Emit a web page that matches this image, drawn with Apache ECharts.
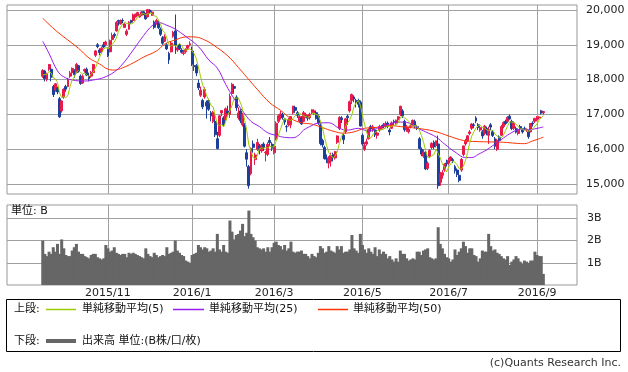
<!DOCTYPE html>
<html><head><meta charset="utf-8">
<script src="https://cdn.jsdelivr.net/npm/echarts@6/dist/echarts.min.js"></script>
<style>html,body{margin:0;padding:0;background:#fff}#c{width:628px;height:372px}</style>
</head><body><div id="c"></div>
<script>
const dates = [
'2015/9/14','2015/9/15','2015/9/16','2015/9/17','2015/9/18','2015/9/24','2015/9/25','2015/9/28','2015/9/29','2015/9/30',
'2015/10/1','2015/10/2','2015/10/5','2015/10/6','2015/10/7','2015/10/8','2015/10/9','2015/10/13','2015/10/14','2015/10/15','2015/10/16','2015/10/19','2015/10/20','2015/10/21','2015/10/22','2015/10/23','2015/10/26','2015/10/27','2015/10/28','2015/10/29','2015/10/30',
'2015/11/2','2015/11/4','2015/11/5','2015/11/6','2015/11/9','2015/11/10','2015/11/11','2015/11/12','2015/11/13','2015/11/16','2015/11/17','2015/11/18','2015/11/19','2015/11/20','2015/11/24','2015/11/25','2015/11/26','2015/11/27','2015/11/30',
'2015/12/1','2015/12/2','2015/12/3','2015/12/4','2015/12/7','2015/12/8','2015/12/9','2015/12/10','2015/12/11','2015/12/14','2015/12/15','2015/12/16','2015/12/17','2015/12/18','2015/12/21','2015/12/22','2015/12/24','2015/12/25','2015/12/28','2015/12/29','2015/12/30',
'2016/1/4','2016/1/5','2016/1/6','2016/1/7','2016/1/8','2016/1/12','2016/1/13','2016/1/14','2016/1/15','2016/1/18','2016/1/19','2016/1/20','2016/1/21','2016/1/22','2016/1/25','2016/1/26','2016/1/27','2016/1/28','2016/1/29',
'2016/2/1','2016/2/2','2016/2/3','2016/2/4','2016/2/5','2016/2/8','2016/2/9','2016/2/10','2016/2/12','2016/2/15','2016/2/16','2016/2/17','2016/2/18','2016/2/19','2016/2/22','2016/2/23','2016/2/24','2016/2/25','2016/2/26','2016/2/29',
'2016/3/1','2016/3/2','2016/3/3','2016/3/4','2016/3/7','2016/3/8','2016/3/9','2016/3/10','2016/3/11','2016/3/14','2016/3/15','2016/3/16','2016/3/17','2016/3/18','2016/3/22','2016/3/23','2016/3/24','2016/3/25','2016/3/28','2016/3/29','2016/3/30','2016/3/31',
'2016/4/1','2016/4/4','2016/4/5','2016/4/6','2016/4/7','2016/4/8','2016/4/11','2016/4/12','2016/4/13','2016/4/14','2016/4/15','2016/4/18','2016/4/19','2016/4/20','2016/4/21','2016/4/22','2016/4/25','2016/4/26','2016/4/27','2016/4/28',
'2016/5/2','2016/5/6','2016/5/9','2016/5/10','2016/5/11','2016/5/12','2016/5/13','2016/5/16','2016/5/17','2016/5/18','2016/5/19','2016/5/20','2016/5/23','2016/5/24','2016/5/25','2016/5/26','2016/5/27','2016/5/30','2016/5/31',
'2016/6/1','2016/6/2','2016/6/3','2016/6/6','2016/6/7','2016/6/8','2016/6/9','2016/6/10','2016/6/13','2016/6/14','2016/6/15','2016/6/16','2016/6/17','2016/6/20','2016/6/21','2016/6/22','2016/6/23','2016/6/24','2016/6/27','2016/6/28','2016/6/29','2016/6/30',
'2016/7/1','2016/7/4','2016/7/5','2016/7/6','2016/7/7','2016/7/8','2016/7/11','2016/7/12','2016/7/13','2016/7/14','2016/7/15','2016/7/19','2016/7/20','2016/7/21','2016/7/22','2016/7/25','2016/7/26','2016/7/27','2016/7/28','2016/7/29',
'2016/8/1','2016/8/2','2016/8/3','2016/8/4','2016/8/5','2016/8/8','2016/8/9','2016/8/10','2016/8/12','2016/8/15','2016/8/16','2016/8/17','2016/8/18','2016/8/19','2016/8/22','2016/8/23','2016/8/24','2016/8/25','2016/8/26','2016/8/29','2016/8/30','2016/8/31',
'2016/9/1','2016/9/2','2016/9/5','2016/9/6'
];
const opens = [
18100,18250,18000,18300,18300,17800,17700,17750,17450,17100,
17500,17800,17800,18100,18200,18250,18200,18400,18100,17900,18250,18300,18100,18100,18200,18700,19000,18850,18800,19000,19000,
18900,18800,19150,19300,19400,19700,19600,19700,19500,19300,19450,19700,19700,19800,19850,19800,19850,19950,19900,
19800,20000,19850,19650,19600,19650,19450,19200,19100,19000,18750,18800,19250,19400,18850,19000,18850,18750,18800,18900,19000,
18820,18400,18400,17900,17550,17400,17500,17350,17400,17050,16800,16800,16300,16400,17040,16900,16850,17100,17000,
17600,17800,17500,16900,17100,16700,16700,15900,15500,15300,16150,15700,16000,16100,15950,16150,15900,15850,16250,16150,
15900,16300,16800,16900,17000,16850,16650,16700,16700,17050,17200,17050,16800,16900,16800,16950,16950,16900,17050,17050,17050,16950,
16700,16250,16050,15750,15600,15650,15850,15750,16200,16600,16900,16400,16500,16950,17100,17400,17500,17400,17400,17350,
16400,16000,16150,16300,16650,16550,16550,16400,16550,16600,16700,16650,16750,16550,16600,16800,16750,16850,17000,
17100,16800,16550,16500,16650,16700,16800,16650,16300,16000,15800,15900,15450,15800,16050,16200,16100,16150,15050,15250,15400,15600,
15600,15700,15700,15500,15400,15250,15400,15850,16150,16250,16450,16600,16700,16900,16700,16550,16500,16450,16600,16400,
16700,16500,16300,16000,16350,16400,16650,16800,16800,16950,16800,16600,16600,16450,16650,16550,16600,16550,16500,16500,16750,16800,
16850,16900,17100,17050
];
const highs = [
18300,18280,18200,18450,18320,17850,17900,17800,17500,17400,
17750,17850,18050,18250,18350,18300,18480,18420,18150,18150,18320,18350,18200,18250,18450,18850,19050,18900,18950,19080,19120,
18920,19150,19350,19350,19680,19720,19730,19760,19620,19450,19680,19720,19900,19900,19950,19880,19970,19970,19920,
20030,20020,19990,19700,19750,19700,19500,19250,19300,19050,18800,19100,19400,19870,19000,19050,18900,18850,18900,19000,19100,
18950,18500,18450,18000,17800,17450,17780,17400,17450,17100,17100,16850,16500,16980,17120,16950,17200,17250,17600,
17905,17850,17550,17200,17150,17050,16750,16000,15550,16050,16250,15900,16300,16150,16150,16200,15950,16200,16350,16200,
16150,16800,17000,17100,17050,16900,16700,16900,16950,17250,17250,17100,16980,16950,17100,17050,16980,17050,17150,17150,17100,17000,
16760,16300,16100,15850,15800,15900,15900,15950,16400,16950,16950,16450,16900,17000,17400,17600,17550,17450,17450,17400,
16450,16200,16300,16600,16700,16700,16600,16500,16700,16700,16750,16800,16800,16600,16800,16850,16850,16950,17250,
17150,16850,16700,16650,16750,16850,16850,16700,16350,16050,16000,15950,15650,16000,16200,16250,16250,16390,15350,15400,15600,15700,
15750,15800,15750,15550,15450,15300,15750,16100,16300,16400,16550,16750,16750,16950,16750,16700,16550,16700,16650,16650,
16750,16550,16350,16300,16400,16700,16800,16850,16950,17000,16850,16800,16650,16600,16700,16600,16650,16600,16550,16750,16800,16900,
16950,16950,17130,17100
];
const lows = [
18050,17950,17950,18250,17950,17500,17650,17580,16900,17050,
17450,17650,17780,18050,18150,18050,18180,18200,17850,17880,18200,18100,17950,18050,18150,18650,18900,18700,18750,18900,18950,
18650,18780,19100,19200,19380,19550,19580,19620,19480,19250,19430,19600,19680,19780,19820,19780,19830,19850,19720,
19790,19900,19830,19450,19580,19450,19250,19000,19080,18850,18450,18780,19200,18740,18800,18850,18750,18700,18750,18850,18950,
18390,18250,18100,17700,17500,17150,17450,16880,17100,16800,16750,16350,16000,16350,16950,16650,16820,16950,16900,
17550,17650,17100,16850,16750,16650,16050,15500,14865,15250,15900,15550,15950,15850,15900,15950,15650,15800,16100,15950,
15850,16250,16750,16850,16850,16700,16500,16650,16600,17000,17050,16900,16750,16700,16780,16900,16820,16850,17000,16980,16850,16700,
16110,16050,15700,15600,15450,15500,15650,15700,16150,16550,16750,16150,16450,16700,17050,17300,17350,17200,17200,16650,
16100,15950,16100,16280,16500,16500,16350,16300,16500,16550,16600,16600,16600,16400,16580,16700,16700,16800,16950,
16900,16500,16500,16450,16600,16650,16600,16550,16000,15800,15750,15400,15400,15750,16000,16000,16050,14864,14950,15150,15350,15500,
15550,15650,15600,15300,15200,15050,15350,15800,16100,16200,16400,16550,16600,16750,16550,16500,16300,16400,16400,16150,
16550,16350,16000,15950,16200,16380,16600,16700,16750,16850,16550,16550,16450,16400,16550,16450,16550,16500,16300,16480,16650,16750,
16800,16850,17000,17000
];
const closes = [
18264,18026,18171,18432,18070,17571,17880,17645,16930,17388,
17722,17725,18005,18186,18322,18141,18438,18234,17891,18096,18291,18131,18029,18207,18435,18825,18947,18777,18903,18935,19083,
18683,19116,19265,19265,19642,19671,19697,19691,19596,19393,19649,19649,19859,19879,19925,19847,19944,19883,19747,
20012,19938,19940,19504,19698,19492,19301,19046,19230,18883,18565,19049,19353,18986,18916,18886,18789,18769,18873,18982,19033,
18450,18374,18191,17767,17697,17218,17715,17240,17147,16955,17048,16416,16017,16958,17110,16708,17163,17041,17518,
17865,17750,17191,17044,16819,17004,16085,15713,14952,16022,16054,15836,16196,15967,16111,16052,15915,16140,16188,16027,
16085,16747,16960,17015,16912,16784,16642,16852,16939,17233,17117,16975,16937,16725,17049,17001,16893,17002,17135,17103,16879,16759,
16164,16123,15733,15715,15750,15822,15751,15928,16381,16911,16849,16275,16874,16906,17363,17572,17440,17353,17290,16666,
16147,16106,16216,16565,16579,16646,16412,16466,16653,16644,16646,16736,16654,16498,16757,16772,16834,16931,17234,
16955,16562,16642,16580,16675,16830,16668,16601,16019,15859,15919,15434,15599,15965,16169,16065,16238,14952,15309,15323,15566,15575,
15682,15775,15669,15378,15276,15106,15708,16095,16231,16385,16497,16723,16681,16810,16627,16620,16383,16664,16476,16569,
16635,16391,16083,16254,16254,16650,16764,16735,16919,16869,16596,16745,16486,16545,16598,16497,16597,16555,16360,16737,16725,16887,
16926,16925,17037,17081
];
const volumes = [
2.0,1.4,1.3,1.5,1.4,1.7,1.5,1.85,1.4,2.05,
1.65,1.35,1.3,1.3,1.55,1.7,1.85,1.5,1.4,1.4,1.3,1.25,1.2,1.35,1.4,1.4,1.25,1.2,1.15,1.2,1.8,
1.65,1.5,1.55,1.7,1.45,1.4,1.35,1.4,1.4,1.25,1.45,1.4,1.45,1.4,1.35,1.3,1.25,1.2,1.65,
1.4,1.3,1.25,1.45,1.35,1.25,1.3,1.35,1.3,1.7,1.4,1.45,1.5,2.0,1.55,1.45,1.35,1.3,1.1,1.05,1.0,
1.35,1.4,1.45,1.8,1.7,1.6,1.7,1.65,1.5,1.55,1.65,1.5,2.3,1.6,1.5,1.8,1.5,1.45,2.9,
2.4,2.05,2.25,2.3,2.45,2.75,2.2,2.35,3.35,2.3,2.15,2.0,1.7,1.65,1.6,1.65,1.5,1.7,1.5,1.7,
1.9,1.95,1.8,1.75,1.6,1.8,1.55,1.65,1.95,1.5,1.45,1.5,1.5,1.55,1.4,1.4,1.3,1.2,1.4,1.3,1.25,1.45,
1.75,1.65,1.45,1.5,1.75,1.55,1.5,1.45,1.75,1.6,1.75,1.45,1.5,1.5,1.6,2.25,1.65,1.55,1.45,2.3,
1.8,1.6,1.45,1.65,1.5,1.4,1.7,1.3,1.6,1.4,1.5,1.4,1.2,1.3,1.15,1.05,1.2,1.05,1.55,
1.4,1.4,1.2,1.1,1.15,1.2,1.15,1.5,1.5,1.35,1.55,1.6,1.65,1.25,1.2,1.15,1.2,2.6,1.85,1.65,1.4,1.25,
1.2,1.05,1.15,1.6,1.35,1.5,1.65,1.95,1.75,1.45,1.65,1.65,1.35,1.3,1.05,1.2,1.55,1.5,1.5,2.3,
1.75,1.55,1.6,1.45,1.4,1.3,1.2,1.15,1.3,0.9,1.05,1.15,1.3,1.2,1.05,0.95,1.1,1.05,1.0,1.1,1.1,1.5,
1.35,1.3,1.3,0.5
];
const ma5 = [
18130,18150,18150,18238,18193,18054,18025,17920,17619,17483,
17513,17482,17554,17805,17992,18076,18218,18264,18205,18160,18190,18129,18088,18151,18219,18325,18489,18638,18777,18877,18929,
18876,18944,19016,19082,19194,19392,19508,19593,19659,19610,19605,19596,19629,19686,19792,19832,19891,19896,19869,
19887,19905,19904,19828,19818,19714,19587,19408,19353,19190,19005,18955,19016,18967,18974,19038,18986,18869,18847,18860,18889,
18821,18742,18606,18363,18096,17849,17718,17527,17403,17255,17221,16961,16717,16679,16710,16642,16791,16996,17108,
17259,17467,17473,17474,17334,17162,16829,16533,16115,15955,15765,15715,15812,16015,16033,16032,16048,16037,16081,16064,
16071,16237,16401,16567,16744,16884,16863,16841,16826,16890,16957,17023,17040,16997,16961,16937,16921,16934,17016,17027,17002,16976,
16808,16606,16332,16099,15897,15829,15754,15793,15926,16159,16364,16469,16658,16763,16853,16998,17231,17327,17404,17264,
16979,16712,16485,16340,16323,16422,16484,16534,16551,16564,16564,16629,16667,16636,16658,16683,16703,16758,16906,
16945,16903,16865,16795,16683,16658,16679,16671,16559,16395,16213,15966,15766,15755,15817,15846,16007,15878,15747,15577,15478,15345,
15491,15584,15653,15616,15556,15441,15427,15513,15683,15905,16183,16386,16503,16619,16668,16692,16624,16621,16554,16542,
16545,16547,16431,16386,16323,16326,16401,16531,16664,16787,16777,16773,16723,16648,16594,16574,16545,16558,16521,16549,16595,16653,
16727,16840,16900,16971
];
const ma25Dates = ['2015/9/14','2015/9/17','2015/9/28','2015/10/1','2015/10/7','2015/10/16','2015/10/23','2015/10/29','2015/11/6','2015/11/12','2015/11/19','2015/11/27','2015/12/3','2015/12/8','2015/12/14','2015/12/18','2015/12/28','2016/1/7','2016/1/15','2016/1/21','2016/1/27','2016/2/2','2016/2/8','2016/2/15','2016/2/19','2016/2/25','2016/3/2','2016/3/8','2016/3/14','2016/3/17','2016/3/22','2016/3/25','2016/3/31','2016/4/7','2016/4/14','2016/4/20','2016/4/27','2016/5/10','2016/5/17','2016/5/24','2016/5/30','2016/6/3','2016/6/10','2016/6/16','2016/6/23','2016/6/29','2016/7/6','2016/7/13','2016/7/19','2016/7/22','2016/7/28','2016/8/3','2016/8/9','2016/8/16','2016/8/22','2016/8/26','2016/9/1','2016/9/6'];
const ma25Values = [19100,18750,18250,18080,17990,17960,18000,18060,18220,18450,18850,19270,19550,19640,19560,19450,19240,18950,18560,18330,17860,17450,17100,16800,16650,16470,16400,16340,16330,16420,16550,16650,16750,16760,16600,16550,16600,16520,16630,16720,16780,16770,16610,16500,16350,16150,15920,15760,15760,15850,15980,16150,16320,16480,16570,16560,16600,16640];
const ma50Dates = ['2015/9/14','2015/9/28','2015/10/13','2015/10/20','2015/10/27','2015/11/2','2015/11/6','2015/11/12','2015/11/19','2015/11/27','2015/12/7','2015/12/11','2015/12/17','2015/12/29','2016/1/6','2016/1/13','2016/1/19','2016/1/28','2016/2/4','2016/2/10','2016/2/18','2016/2/26','2016/3/4','2016/3/11','2016/3/18','2016/3/28','2016/4/4','2016/4/11','2016/4/18','2016/4/25','2016/5/6','2016/5/16','2016/5/24','2016/5/31','2016/6/10','2016/6/22','2016/7/1','2016/7/12','2016/7/21','2016/8/1','2016/8/9','2016/8/18','2016/8/24','2016/8/30','2016/9/2','2016/9/6'];
const ma50Values = [19760,19370,18900,18620,18450,18300,18275,18340,18480,18650,18820,19020,19120,19230,19220,19140,19000,18680,18350,18070,17720,17330,17120,16880,16760,16720,16620,16520,16460,16500,16600,16630,16680,16650,16600,16520,16380,16250,16220,16210,16200,16170,16160,16240,16300,16350];
const priceTicks = [15000,16000,17000,18000,19000,20000];
const volumeTicks = [1,2,3];
const monthTickDates = ['2015/11/2','2016/1/4','2016/3/1','2016/5/2','2016/7/1','2016/9/1'];
const monthTickLabels = ['2015/11','2016/1','2016/3','2016/5','2016/7','2016/9'];

// empty category slots before and after the data (axis extent)
const LEAD = 17, TRAIL = 16;
const lead = Array.from({length: LEAD}, (_, i) => 'lead' + i);
const trail = Array.from({length: TRAIL}, (_, i) => 'trail' + i);
const cats = lead.concat(dates, trail);
const pad = (arr) => Array(LEAD).fill('-').concat(arr, Array(TRAIL).fill('-'));
const candle = pad(dates.map((d, i) => [opens[i], closes[i], lows[i], highs[i]]));
const sparse = (ds, vs) => { const m = {}; ds.forEach((d, i) => m[d] = vs[i]); return cats.map(c => (c in m) ? m[c] : null); };
const tickSet = new Set(monthTickDates);
const labelMap = {}; monthTickDates.forEach((d, i) => labelMap[d] = monthTickLabels[i]);
const isTick = (idx, v) => tickSet.has(v);

const FONT = '"DejaVu Sans", "Noto Sans CJK JP", sans-serif';
const GRID = '#a0a0a0';
const UP = '#e8194b', DOWN = '#1c3f9a';
const C5 = '#9acd00', C25 = '#9a1cf0', C50 = '#ff3300', CVOL = '#666666';

const chart = echarts.init(document.getElementById('c'), null, {renderer: 'canvas'});
const txt = (x, y, text, extra) => ({type: 'text', x, y, silent: true, style: Object.assign({text, fill: '#111', font: '11px ' + FONT, textAlign: 'left', align: 'left', textVerticalAlign: 'middle', verticalAlign: 'middle'}, extra || {})});
const bar = (x1, x2, y, color, h) => ({type: 'rect', silent: true, shape: {x: x1, y: y - h / 2, width: x2 - x1, height: h}, style: {fill: color}});

chart.setOption({
  animation: false,
  backgroundColor: '#fff',
  textStyle: {fontFamily: FONT},
  grid: [
    {left: 7, top: 5, width: 570, height: 189, show: true, borderColor: '#999', borderWidth: 1, backgroundColor: 'transparent'},
    {left: 7, top: 205, width: 570, height: 80, show: true, borderColor: '#999', borderWidth: 1, backgroundColor: 'transparent'}
  ],
  xAxis: [
    {type: 'category', gridIndex: 0, data: cats, boundaryGap: false,
     axisLine: {show: false}, axisTick: {show: false}, axisLabel: {show: false},
     splitLine: {show: true, interval: isTick, lineStyle: {color: GRID, width: 1}}},
    {type: 'category', gridIndex: 1, data: cats, boundaryGap: false,
     axisLine: {show: false}, axisTick: {show: false},
     axisLabel: {show: true, interval: isTick, formatter: v => labelMap[v] || '', margin: 3, color: '#222', fontSize: 11, fontFamily: FONT},
     splitLine: {show: true, interval: isTick, lineStyle: {color: GRID, width: 1}}}
  ],
  yAxis: [
    {type: 'value', gridIndex: 0, position: 'right', min: 14713, max: 20144,
     axisLine: {show: false}, axisTick: {show: false, customValues: priceTicks},
     axisLabel: {customValues: priceTicks, formatter: v => v.toLocaleString('en-US'), margin: 9, color: '#222', fontSize: 11, fontFamily: FONT},
     splitLine: {show: true, lineStyle: {color: GRID, width: 1}}},
    {type: 'value', gridIndex: 1, position: 'right', min: 0, max: 3.6,
     axisLine: {show: false}, axisTick: {show: false, customValues: volumeTicks},
     axisLabel: {customValues: volumeTicks, formatter: v => v + 'B', margin: 10, color: '#222', fontSize: 11, fontFamily: FONT},
     splitLine: {show: true, lineStyle: {color: GRID, width: 1}}}
  ],
  series: [
    {type: 'bar', xAxisIndex: 1, yAxisIndex: 1, data: pad(volumes), barWidth: 3, itemStyle: {color: CVOL}, silent: true},
    {type: 'candlestick', xAxisIndex: 0, yAxisIndex: 0, data: candle, barWidth: 2.4,
     itemStyle: {color: UP, color0: DOWN, borderColor: UP, borderColor0: DOWN, borderWidth: 1}, silent: true},
    {type: 'line', name: 'MA50', xAxisIndex: 0, yAxisIndex: 0, data: sparse(ma50Dates, ma50Values), connectNulls: true, smooth: 0.4, showSymbol: false, lineStyle: {color: C50, width: 1}, silent: true},
    {type: 'line', name: 'MA25', xAxisIndex: 0, yAxisIndex: 0, data: sparse(ma25Dates, ma25Values), connectNulls: true, smooth: 0.4, showSymbol: false, lineStyle: {color: C25, width: 1}, silent: true},
    {type: 'line', name: 'MA5', xAxisIndex: 0, yAxisIndex: 0, data: pad(ma5), showSymbol: false, lineStyle: {color: C5, width: 1}, silent: true}
  ],
  graphic: [
    txt(11, 211, '単位: B'),
    {type: 'rect', silent: true, shape: {x: 6.5, y: 299.5, width: 614, height: 52}, style: {fill: 'none', stroke: '#000', lineWidth: 1}},
    txt(14, 309, '上段:'),
    bar(46, 76, 309.5, C5, 1.5),
    txt(82, 309, '単純移動平均(5)'),
    bar(173, 204, 309.5, C25, 1.5),
    txt(209, 309, '単純移動平均(25)'),
    bar(318, 348, 309.5, C50, 1.5),
    txt(353, 309, '単純移動平均(50)'),
    txt(14, 341, '下段:'),
    bar(46, 76, 341, CVOL, 4),
    txt(82, 341, '出来高 単位:(B株/口/枚)'),
    txt(621, 363, '(c)Quants Research Inc.', {textAlign: 'right', align: 'right', fill: '#333'})
  ]
});
</script></body></html>
